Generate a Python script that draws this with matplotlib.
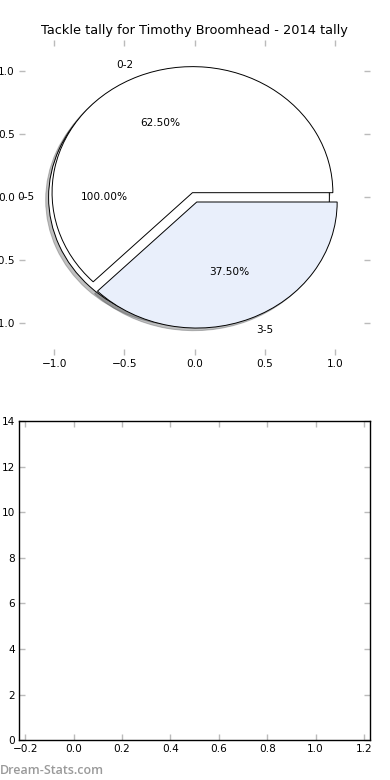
import matplotlib
matplotlib.use("Agg")
import matplotlib.pyplot as plt

# data
title = "Tackle tally for Timothy Broomhead - 2014 tally"
total_labels = ["0-5"]
total_values = [8]
total_explode = [0.04]
split_labels = ["0-2", "3-5"]
split_values = [5, 3]
split_explode = [0.04, 0.04]
split_colors = ["white", "#e9effb"]
pie_ticks = [-1.0, -0.5, 0.0, 0.5, 1.0]
bar_xticks = [-0.2, 0.0, 0.2, 0.4, 0.6, 0.8, 1.0, 1.2]
bar_yticks = [0, 2, 4, 6, 8, 10, 12, 14]

plt.rcParams["font.family"] = "DejaVu Sans"
plt.rcParams["font.size"] = 7.5

fig = plt.figure(figsize=(3.9, 7.8), dpi=100)

def style_ticks(ax):
    """Grey inward ticks on every side"""
    ax.tick_params(direction="in", length=4, width=1, color="#bbbbbb",
                   top=True, right=True, labelsize=7.6, pad=3)

# top: pie chart, one full pie under the split one
ax1 = fig.add_axes([0.049, 0.545, 0.9, 0.404])
wp = {"edgecolor": "black", "linewidth": 0.7}
shadow = {"ox": -0.015, "oy": -0.015, "alpha": 0.35}
ax1.pie(total_values, labels=total_labels, explode=total_explode,
        autopct="%.2f%%", shadow=shadow, colors=["white"], wedgeprops=wp,
        textprops={"fontsize": 7.6})
ax1.pie(split_values, labels=split_labels, explode=split_explode,
        autopct="%.2f%%", shadow=shadow, colors=split_colors, wedgeprops=wp,
        textprops={"fontsize": 7.6})
ax1.set_aspect("auto")
ax1.set_xlim(-1.25, 1.25)
ax1.set_ylim(-1.25, 1.25)
ax1.set_xticks(pie_ticks)
ax1.set_yticks(pie_ticks)
ax1.set_frame_on(False)
style_ticks(ax1)
ax1.set_title(title, fontsize=9.3, pad=4)

# bottom: empty bar axes
ax2 = fig.add_axes([0.049, 0.051, 0.9, 0.409])
ax2.set_xlim(-0.225, 1.225)
ax2.set_ylim(0, 14)
ax2.set_xticks(bar_xticks)
ax2.set_yticks(bar_yticks)
for s in ax2.spines.values():
    s.set_linewidth(1)
style_ticks(ax2)

fig.text(0.0, 0.0128, "Dream-Stats.com", color="#9a9a9a", fontsize=9,
         family="Open Sans", fontweight="semibold", va="center")

fig.savefig("out.png", dpi=100)
